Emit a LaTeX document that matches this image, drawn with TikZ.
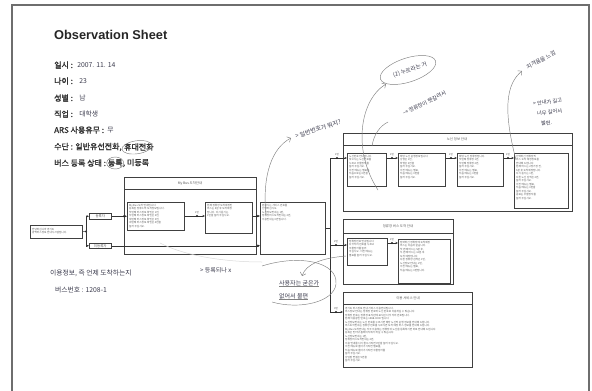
\documentclass[tikz,border=0pt]{standalone}
\usepackage{fontspec}
\setmainfont{Noto Sans CJK KR}
\newfontfamily\kr{Noto Sans CJK KR}
\newfontfamily\krb{Noto Sans CJK KR}[FakeBold=1.6]
\newfontfamily\ttlfont{Liberation Sans}
\usetikzlibrary{arrows.meta,calc,positioning}
\definecolor{handc}{RGB}{60,60,78}
\definecolor{framec}{RGB}{110,110,110}
\newcommand\bx[5]{\node[boxst, anchor=north west, minimum width={(#4-#2)*1pt}, minimum height={(#5-#3)*1pt}] (#1) at (#2,#3) {};}
\begin{document}
\begin{tikzpicture}[x=1pt,y=-1pt,
  boxst/.style={draw=black!75, line width=0.5pt, inner sep=0pt, fill=white},
  tx/.style={font=\kr\fontsize{2.6}{3.5}\selectfont, align=left, anchor=north west, inner sep=0pt, text=black!65},
  hd/.style={font=\kr\fontsize{3.4}{4}\selectfont, text=black!65, inner sep=0pt},
  num/.style={font=\kr\fontsize{2.5}{3}\selectfont, inner sep=0.3pt, text=black!70},
  con/.style={draw=black!80, line width=0.5pt},
  arr/.style={con, -{Stealth[length=2.6pt,width=2.2pt]}},
  jdot/.style={circle, fill=black!85, inner sep=0pt, minimum size=2.2pt},
  lab/.style={font=\krb\fontsize{8}{9}\selectfont, text=black!80, inner sep=0pt, anchor=west},
  hand/.style={font=\kr\fontsize{6.8}{8}\selectfont, text=handc, inner sep=0pt},
  pen/.style={draw=black!50, line width=0.45pt},
  faint/.style={draw=black!15, line width=0.5pt}]
\useasboundingbox (0,0) rectangle (592,391);
\fill[white] (0,0) rectangle (592,391);
\draw[framec, line width=1.1pt] (12,391) -- (12,5) -- (589,5) -- (589,391);

% ---------------- header information ----------------
\node[anchor=west, inner sep=0pt, font=\ttlfont\bfseries\fontsize{12.8}{15}\selectfont, text=black!85] (title) at (54,35) {Observation Sheet};

\node[lab] (l1) at (54,65) {일시 :};
\node[hand, anchor=west, right=4pt of l1] (v1) {2007. 11. 14};
\node[lab] (l2) at (54,81) {나이 :};
\node[hand, anchor=west, right=6pt of l2] (v2) {23};
\node[lab] (l3) at (54,98) {성별 :};
\node[hand, anchor=west, right=6pt of l3] (v3) {남};
\node[lab] (l4) at (54,114) {직업 :};
\node[hand, anchor=west, right=6pt of l4] (v4) {대학생};
\node[lab] (l5) at (54,130) {ARS 사용유무 :};
\node[hand, anchor=west, right=3pt of l5] (v5) {무};
\node[lab] (l6) at (54,147) {수단 : 일반유선전화,};
\node[lab, right=2pt of l6] (l6b) {휴대전화};
\draw[pen, rotate around={8:(l6b.center)}] ($(l6b.center)+(-2,0)$) ellipse [x radius=15pt, y radius=6.5pt];
\node[lab] (l7) at (54,163) {버스 등록 상태 :};
\node[lab, right=1.5pt of l7] (l7b) {등록};
\node[lab, right=0pt of l7b] (l7c) {, 미등록};
\draw[pen] (l7b.center) ellipse [x radius=8.5pt, y radius=6pt];

% ---------------- flow diagram ----------------
\bx{lb}{30}{225}{82}{238}
\node[tx] (lbt) at (32,228) {안녕하십니까 경기도\\광역버스정보 안내시스템입니다.};
\coordinate (j1) at (86,231.5);
\node[jdot] (j1d) at (j1) {};
\bx{reg}{89}{213}{111}{219}
\node[hd] (regt) at (reg.center) {등록자};
\bx{unreg}{89}{243}{111}{248}
\node[hd] (unregt) at (unreg.center) {미등록자};

% My Bus box
\bx{mb}{124}{177}{256}{254}
\draw[black!75, line width=0.5pt] (mb.west |- 0,189) -- (mb.east |- 0,189);
\node[hd] (mbt) at (190,183) {My Bus 도착안내};
\bx{mb1}{127}{202}{184}{230}
\node[tx] (mb1t) at (129,204) {My Bus 도착 안내입니다.\\등록된 정류소의 도착정보입니다.\\첫번째 버스정보 확인은 1번,\\두번째 버스정보 확인은 2번,\\세번째 버스정보 확인은 3번,\\네번째 버스정보 확인은 4번을\\눌러 주십시오.};
\bx{mb2}{205}{202}{252}{233}
\node[tx] (mb2t) at (207,204) {현재 정류장 도착예정인\\버스는 5분 후 도착예정\\입니다. 다시 듣기는\\1번을 눌러 주십시오.};

\bx{b3}{260}{202}{325}{254}
\node[tx] (b3t) at (262,204) {원하시는 서비스 번호를\\선택하십시오.\\노선정보안내는 1번,\\정류장버스도착안내는 2번,\\이용안내는 0번입니다.};

% route information
\bx{rt}{343}{133}{572}{211}
\draw[black!75, line width=0.5pt] (rt.west |- 0,145) -- (rt.east |- 0,145);
\node[hd] (rtt) at (457,139) {노선 정보 안내};
\bx{nb1}{347}{153}{386}{186}
\node[tx] (nb1t) at (349,155) {노선번호 안내입니다.\\찾으시는 노선번호를\\누르고 우물정자를\\눌러 주십시오.\\이전 메뉴는 별표를,\\처음으로는 0번을\\눌러 주십시오.};
\bx{nb2}{398}{153}{445}{186}
\node[tx] (nb2t) at (400,155) {해당 노선 운행정보입니다.\\상행은 1번,\\하행은 2번을\\눌러 주십시오.\\이전 메뉴는 별표,\\처음 메뉴는 0번을\\눌러 주십시오.};
\bx{nb3}{457}{153}{503}{186}
\node[tx] (nb3t) at (459,155) {해당 노선 정류장입니다.\\첫번째 정류장 1번,\\두번째 정류장 2번,\\눌러 주십시오.\\이전 메뉴는 별표,\\처음 메뉴는 0번을\\눌러 주십시오.};
\bx{nb4}{514}{153}{568}{208}
\node[tx] (nb4t) at (516,155) {선택하신 정류장의\\버스 도착 예정정보를\\안내해 드립니다.\\현재 버스는 2정거장 전,\\5분 후 도착예정입니다.\\다시 듣기는 1번,\\다른 노선 검색은 2번,\\눌러 주십시오.\\이전 메뉴는 별표,\\처음 메뉴는 0번을\\눌러 주십시오.\\종료는 우물정자를\\눌러 주십시오.};

% station arrival
\bx{st}{343}{219}{453}{284}
\draw[black!75, line width=0.5pt] (st.west |- 0,233) -- (st.east |- 0,233);
\node[hd] (stt) at (398,226) {정류장 버스 도착 안내};
\bx{sb1}{347}{238}{387}{265}
\node[tx] (sb1t) at (349,240) {정류장번호 안내입니다.\\다섯자리 번호를 누르고\\우물정자를 눌러\\주십시오. 이전 메뉴는\\별표를 눌러 주십시오.};
\bx{sb2}{398}{239}{450}{283}
\node[tx] (sb2t) at (400,241) {입력하신 정류장에 도착예정\\버스는 다음과 같습니다.\\첫 번째 버스는 5분 후,\\두 번째 버스는 12분 후\\도착 예정입니다.\\다른 정류장 검색은 1번,\\노선정보 안내는 2번,\\이전 메뉴는 별표,\\처음 메뉴는 0번입니다.};

% usage information
\bx{us}{343}{292}{472}{367}
\draw[black!75, line width=0.5pt] (us.west |- 0,304) -- (us.east |- 0,304);
\node[hd] (ust) at (408,298) {이용 서비스 안내};
\node[tx] (ust1) at (345,307) {경기도 버스정보 안내 서비스 이용안내입니다.\\버스정보 안내는 정류장 번호와 노선 번호로 이용하실 수 있습니다.\\정류장 번호는 정류장 표지판에 표시된 다섯 자리 번호입니다.\\현재 이용중인 번호는 1588-0000 입니다.\\노선정보안내는 노선 번호를 누르시면 해당 노선의 운행 정보를 안내해 드립니다.\\버스도착안내는 정류장 번호를 누르시면 도착 예정 버스 정보를 안내해 드립니다.\\My Bus 도착안내는 자주 이용하는 정류장과 노선을 등록하시면 바로 안내해 드립니다.\\등록은 인터넷 홈페이지에서 하실 수 있습니다.\\노선정보안내는 1번,\\정류장버스도착안내는 2번,\\이용 안내를 다시 들으시려면 0번을 눌러 주십시오.\\이전 메뉴로 돌아가시려면 별표를,\\처음 메뉴로 돌아가시려면 우물정자를\\눌러 주십시오.\\상담원 연결은 9번을\\눌러 주십시오.};

% connectors
\draw[con] (lb.east) -- (j1);
\draw[arr] (j1) |- (reg.west);
\draw[arr] (j1) |- (unreg.west);
\draw[arr] (reg.east) -- (reg.east -| mb1.west);
\node[jdot] (d1) at ($(reg.east -| mb1.west)+(-3,0)$) {};
\draw[arr] (mb1.east |- 0,216) -- (mb2.west |- 0,216);
\node[jdot] (d2) at (197,216) {};
\node[num, above=0.6pt of d2] (n2) {1번};
\draw[arr] (mb2.east |- 0,216) -- (b3.west |- 0,216);
\node[jdot] (d3) at (257,216) {};
\draw[arr] (unreg.east) -- (unreg.east -| b3.west);
\node[jdot] (d4) at ($(unreg.east -| b3.west)+(-2,0)$) {};
\coordinate (vtop) at (330,158);
\coordinate (vmid) at (330,245);
\coordinate (vbot) at (330,312);
\draw[con] (b3.east) -- (b3.east -| vtop);
\draw[con] (vtop) -- (vbot);
\draw[arr] (vtop) -- (vtop -| nb1.west);
\node[jdot] (d5) at (337,158) {};
\node[num, above=0.6pt of d5] (n5) {1번};
\draw[arr] (nb1.east |- vtop) -- (nb2.west |- vtop);
\node[jdot] (d6) at (392,158) {};
\node[num, above=0.6pt of d6] (n6) {1번};
\draw[arr] (nb2.east |- vtop) -- (nb3.west |- vtop);
\node[jdot] (d7) at (451,158) {};
\node[num, above=0.6pt of d7] (n7) {1번};
\draw[arr] (nb3.east |- vtop) -- (nb4.west |- vtop);
\node[jdot] (d8) at (508,158) {};
\node[num, above=0.6pt of d8] (n8) {1번};
\draw[arr] (vmid) -- (vmid -| sb1.west);
\node[jdot] (d9) at (336,245) {};
\node[num, above=0.6pt of d9] (n9) {2번};
\draw[arr] (sb1.east |- 0,243) -- (sb2.west |- 0,243);
\node[jdot] (d10) at (392,243) {};
\node[num, above=0.6pt of d10] (n10) {1번};
\draw[arr] (vbot) -- (vbot -| us.west);
\node[jdot] (d11) at (336,312) {};
\node[num, above=0.6pt of d11] (n11) {0번};

% ---------------- handwritten notes ----------------
\node[hand, anchor=west] (h1) at (50,273) {이용정보, 즉 언제 도착하는지};
\node[hand, anchor=west] (h2) at (55,290) {버스번호 : 1208-1};
\node[hand, anchor=west, font=\kr\fontsize{6}{7}\selectfont] (h3) at (200,270) {> 등록되나 x};

\node[hand, rotate=18, font=\kr\fontsize{6}{7}\selectfont] (h4) at (318,129) {> 일반번호가 뭐지?};
\draw[pen, -{Straight Barb[length=3pt]}] (266,215) .. controls (262,175) and (272,148) .. (291,138);

\node[hand, rotate=18, font=\kr\fontsize{5.6}{7}\selectfont] (h5) at (410,70) {(2) 누르라는 거};
\draw[pen, rotate around={18:(408,70)}] (408,70) ellipse [x radius=29pt, y radius=12pt];
\draw[pen, -{Straight Barb[length=3pt]}] (378,190) .. controls (352,150) and (360,100) .. (386,84);

\node[hand, rotate=27, font=\kr\fontsize{5.4}{7}\selectfont] (h6) at (425,103) {→ 정류장이 헷갈려서 ~};
\draw[pen] (372,146) .. controls (374,134) and (380,126) .. (388,122);

\node[hand, rotate=28, font=\kr\fontsize{5.6}{7}\selectfont] (h7) at (541,60) {지겨움을 느낌};
\draw[pen, -{Straight Barb[length=3pt]}] (516,160) .. controls (503,110) and (506,84) .. (522,71);

\node[hand, anchor=west, rotate=8, font=\kr\fontsize{5.2}{6.5}\selectfont] (h8a) at (533,104) {> 안내가 길고};
\node[hand, anchor=west, rotate=8, font=\kr\fontsize{5.2}{6.5}\selectfont] (h8b) at (537,114) {너무 길어서};
\node[hand, anchor=west, rotate=8, font=\kr\fontsize{5.2}{6.5}\selectfont] (h8c) at (541,124) {불편.};

\node[hand, anchor=west, font=\kr\fontsize{6}{7}\selectfont] (h9) at (279,283) {사용자는 굳은가};
\node[hand, anchor=west, font=\kr\fontsize{6}{7}\selectfont] (h10) at (279,296) {없어서 불편};
\draw[pen] (h9.south west) -- (h9.south east);
\draw[pen] (h10.south west) -- (h10.south east);
\draw[pen, -{Straight Barb[length=3pt]}] (346,256) .. controls (322,258) and (306,264) .. (302,276);
\draw[pen] (262,266) .. controls (300,254) and (338,262) .. (336,284) .. controls (334,302) and (300,310) .. (272,302);
\draw[faint] (160,243) .. controls (185,256) and (225,262) .. (262,262);
\end{tikzpicture}
\end{document}
